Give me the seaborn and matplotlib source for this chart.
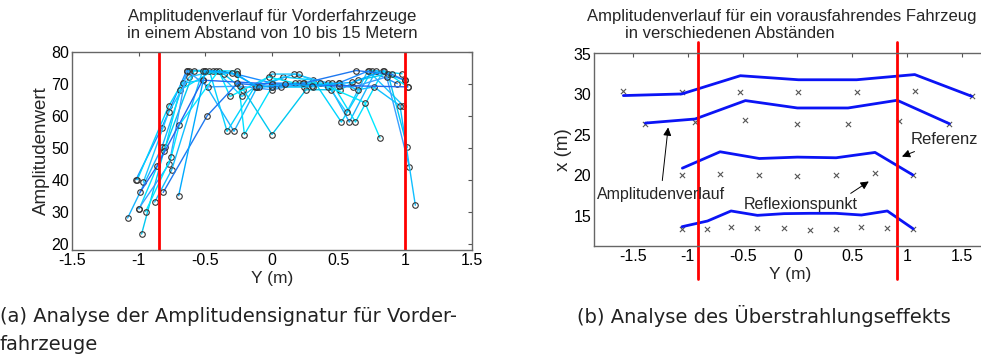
import numpy as np
import pandas as pd
import matplotlib.pyplot as plt
import seaborn as sns

sns.set_style("white")
plt.rcParams['font.family'] = ['Liberation Sans', 'DejaVu Sans']

# ---- left panel: amplitude tracks (lateral offset y, amplitude) ----
tracks_y = [
    [-1.02, -0.828, -0.64, -0.50, -0.26, 0.00, 0.20, 0.50, 0.73, 0.94],
    [-1.01, -0.776, -0.62, -0.47, -0.337, -0.13, 0.085, 0.31, 0.52, 0.75, 0.975],
    [-1.083, -0.826, -0.664, -0.52, -0.285, -0.11, 0.166, 0.42, 0.58, 0.78, 1.00],
    [-0.995, -0.80, -0.69, -0.44, -0.26, -0.207, 0.00, 0.24, 0.45, 0.626, 0.836, 1.018],
    [-0.965, -0.776, -0.62, -0.42, -0.225, 0.00, 0.20, 0.44, 0.56, 0.72, 0.985],
    [-0.978, -0.81, -0.584, -0.357, -0.215, 0.00, 0.255, 0.51, 0.646, 0.87, 1.015],
    [-1.00, -0.77, -0.64, -0.48, -0.24, 0.00, 0.24, 0.42, 0.61, 0.86, 1.03],
    [-0.948, -0.757, -0.696, -0.40, -0.315, -0.025, 0.17, 0.36, 0.696, 0.81],
    [-0.88, -0.752, -0.52, -0.26, -0.12, 0.067, 0.31, 0.50, 0.646, 0.764, 0.96, 1.075],
    [-0.99, -0.863, -0.52, 0.00, 0.50, 1.018],
    [-0.816, -0.486, -0.26, 0.00, 0.23, 0.63, 0.90, 1.00],
    [-0.70, -0.50, -0.30, -0.10, 0.10, 0.30, 0.60, 0.84],
]
tracks_amp = [
    [40.1, 56.2, 74.2, 74.2, 73.0, 70.3, 70.2, 70.3, 74.2, 70.1],
    [40.1, 63.0, 74.2, 74.2, 55.2, 69.1, 72.2, 71.2, 58.1, 74.2, 73.2],
    [28.1, 50.2, 70.3, 71.2, 55.2, 69.1, 73.1, 70.3, 58.1, 74.2, 71.1],
    [31.0, 50.2, 68.1, 74.2, 74.0, 54.2, 69.1, 69.1, 70.3, 58.1, 74.2, 69.1],
    [39.3, 61.1, 72.2, 74.2, 66.1, 73.1, 73.1, 68.2, 61.1, 74.2, 63.2],
    [23.1, 49.2, 74.2, 73.0, 68.2, 54.2, 68.2, 68.2, 71.2, 73.2, 50.2],
    [31.0, 45.1, 74.2, 69.1, 69.3, 68.2, 70.2, 69.1, 69.1, 72.2, 44.1],
    [30.1, 47.1, 57.1, 74.2, 66.1, 72.2, 70.3, 70.3, 64.2, 53.1],
    [33.1, 43.2, 74.2, 73.0, 69.1, 69.1, 69.1, 70.3, 68.2, 69.1, 63.2, 32.1],
    [36.1, 44.3, 71.2, 70.0, 69.5, 69.1],
    [36.1, 60.1, 70.2, 69.1, 70.2, 74.2, 73.0, 71.1],
    [35.1, 74.2, 73.5, 69.0, 70.0, 69.5, 70.5, 74.2],
]
track_colors = ['#1a8cff', '#00d4ff', '#19b5ff', '#00e0ff', '#1ec8ff', '#00c8f0',
                '#3aa0ff', '#00e8ff', '#10bfff', '#2266ee', '#1e78f0', '#00aaff']
red_lines_a = [-0.85, 1.0]

# ---- right panel: four distances ----
dist_names = ['30 m', '27 m', '20 m', '13 m']
line_y = [
    [-1.587, -1.055, -0.52, 0.01, 0.54, 1.07, 1.59],
    [-1.386, -0.933, -0.474, 0.0, 0.462, 0.91, 1.386],
    [-1.049, -0.705, -0.347, 0.0, 0.353, 0.708, 1.052],
    [-1.052, -0.82, -0.605, -0.365, -0.122, 0.115, 0.35, 0.584, 0.82, 1.055],
]
line_x = [
    [29.85, 30.05, 32.3, 31.8, 31.8, 32.44, 29.76],
    [26.46, 26.96, 29.23, 28.32, 28.32, 29.27, 26.38],
    [20.9, 22.92, 22.09, 22.26, 22.18, 22.84, 20.07],
    [13.68, 14.38, 15.62, 15.08, 15.29, 15.33, 15.33, 15.12, 15.62, 13.43],
]
refl_y = [
    [-1.593, -1.055, -0.52, 0.009, 0.54, 1.07, 1.59],
    [-1.386, -0.933, -0.474, 0.0, 0.462, 0.93, 1.386],
    [-1.049, -0.705, -0.347, 0.0, 0.353, 0.708, 1.052],
    [-1.052, -0.82, -0.605, -0.365, -0.122, 0.115, 0.35, 0.584, 0.82, 1.055],
]
refl_x = [
    [30.38, 30.34, 30.34, 30.34, 30.34, 30.38, 29.8],
    [26.34, 26.59, 26.79, 26.38, 26.34, 26.75, 26.34],
    [20.07, 20.2, 20.03, 19.99, 20.03, 20.28, 20.03],
    [13.35, 13.35, 13.64, 13.56, 13.47, 13.31, 13.43, 13.6, 13.56, 13.39],
]
red_lines_b = [-0.91, 0.91]

amp_df = pd.DataFrame({
    'track': np.concatenate([[i] * len(t) for i, t in enumerate(tracks_y)]),
    'y': np.concatenate(tracks_y),
    'amp': np.concatenate(tracks_amp),
})
line_df = pd.DataFrame({
    'dist': np.concatenate([[n] * len(v) for n, v in zip(dist_names, line_y)]),
    'y': np.concatenate(line_y),
    'x': np.concatenate(line_x),
})
refl_df = pd.DataFrame({'y': np.concatenate(refl_y), 'x': np.concatenate(refl_x)})

fig = plt.figure(figsize=(9.81, 3.6), dpi=100)
ax1 = fig.add_axes([72 / 981, 110 / 360, 400 / 981, 198 / 360])
ax2 = fig.add_axes([594 / 981, 114 / 360, 392 / 981, 193 / 360])

# left panel
sns.lineplot(data=amp_df, x='y', y='amp', hue='track', palette=track_colors,
             sort=False, estimator=None, legend=False, lw=1.0,
             marker='o', ms=4, mfc='none', mec='#333333', mew=0.8, ax=ax1)
for xr in red_lines_a:
    ax1.axvline(xr, color='red', lw=2)
ax1.set_xlim(-1.5, 1.5)
ax1.set_ylim(18.1, 80)
ax1.set_xticks([-1.5, -1, -0.5, 0, 0.5, 1, 1.5])
ax1.set_xticklabels(['-1.5', '-1', '-0.5', '0', '0.5', '1', '1.5'])
ax1.set_yticks([20, 30, 40, 50, 60, 70, 80])
ax1.set_xlabel('Y (m)', fontsize=12.5, labelpad=2)
ax1.set_ylabel('Amplitudenwert', fontsize=13.5, labelpad=1)
fig.text(272 / 981, 1 - 16 / 360, 'Amplitudenverlauf für Vorderfahrzeuge',
         ha='center', va='center', fontsize=12.1)
fig.text(272 / 981, 1 - 34 / 360, 'in einem Abstand von 10 bis 15 Metern',
         ha='center', va='center', fontsize=12.1)

# right panel
sns.lineplot(data=line_df, x='y', y='x', units='dist', estimator=None, sort=False,
             color='#0b14f5', lw=2, ax=ax2)
sns.scatterplot(data=refl_df, x='y', y='x', marker='x', color='#555555', s=14,
                linewidth=0.8, ax=ax2)
for xr in red_lines_b:
    ax2.plot([xr, xr], [7.2, 36.5], color='red', lw=2, clip_on=False)
ax2.set_xlim(-1.855, 1.72)
ax2.set_ylim(11.3, 35.1)
ax2.set_xticks([-1.5, -1, -0.5, 0, 0.5, 1, 1.5])
ax2.set_xticklabels(['-1.5', '-1', '-0.5', '0', '0.5', '1', '1.5'])
ax2.set_yticks([15, 20, 25, 30, 35])
ax2.set_xlabel('Y (m)', fontsize=12.5, labelpad=2)
ax2.set_ylabel('x (m)', fontsize=13.5, labelpad=1)
fig.text(587 / 981, 1 - 16 / 360, 'Amplitudenverlauf für ein vorausfahrendes Fahrzeug',
         ha='left', va='center', fontsize=12)
fig.text(625 / 981, 1 - 34 / 360, 'in verschiedenen Abständen',
         ha='left', va='center', fontsize=12)

arrow = dict(arrowstyle='-|>', color='k', lw=0.7, mutation_scale=12)
ax2.annotate('Referenz', xy=(0.93, 22.2), xytext=(1.03, 24.4),
             fontsize=12, ha='left', va='center', arrowprops=arrow,
             annotation_clip=False)
ax2.annotate('Amplitudenverlauf', xy=(-1.176, 26.26), xytext=(-1.83, 17.7),
             fontsize=11.5, ha='left', va='center', arrowprops=arrow)
ax2.text(-0.49, 16.4, 'Reflexionspunkt', fontsize=11.5, ha='left', va='center')
ax2.annotate('', xy=(0.672, 19.45), xytext=(0.465, 17.6), arrowprops=arrow)

for ax in (ax1, ax2):
    ax.tick_params(direction='in', length=3, labelsize=11.5, top=True, right=True,
                   colors='#555555', labelcolor='black', pad=2)
    for sp in ax.spines.values():
        sp.set_color('#666666')
        sp.set_linewidth(1)

# captions
cap_font = dict(fontsize=14, family='DejaVu Sans', color='#222222')
fig.text(0.0, 1 - 316 / 360, '(a) Analyse der Amplitudensignatur für Vorder-',
         ha='left', va='center', **cap_font)
fig.text(0.0, 1 - 345 / 360, 'fahrzeuge', ha='left', va='center', **cap_font)
fig.text(577 / 981, 1 - 316 / 360, '(b) Analyse des Überstrahlungseffekts',
         ha='left', va='center', **cap_font)

fig.savefig('out.png', dpi=100)
